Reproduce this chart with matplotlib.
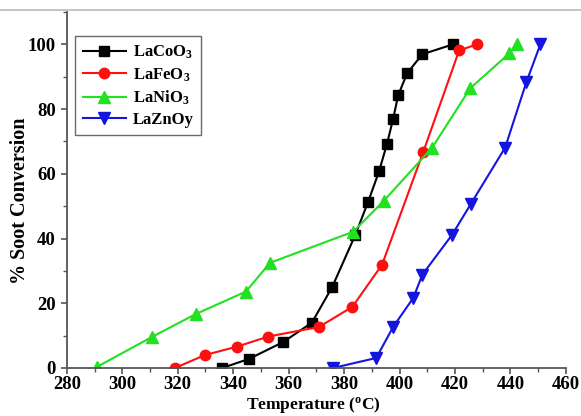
import numpy as np
import matplotlib.pyplot as plt
from matplotlib.lines import Line2D
from matplotlib.ticker import MultipleLocator

# data
co_temp = [336, 345.7, 358, 368.4, 375.7, 384, 388.7, 392.6, 395.5, 397.7, 399.5, 402.7, 408.2, 419.4]
co_conv = [0, 2.8, 8, 14, 25, 41, 51.4, 60.7, 69.3, 77, 84.2, 91, 96.9, 100]

fe_temp = [319, 329.8, 341.4, 352.6, 371, 383, 393.7, 408.5, 421.5, 428]
fe_conv = [0, 4.0, 6.6, 9.7, 12.7, 18.9, 31.9, 66.6, 98.1, 100]

ni_temp = [290.8, 310.7, 326.6, 344.6, 353.3, 383.3, 394.4, 411.8, 425.5, 439.6, 442.5]
ni_conv = [0.3, 9.6, 16.7, 23.6, 32.5, 42.1, 51.7, 68.1, 86.4, 97.2, 100]

zn_temp = [376, 391.6, 397.7, 405, 408.2, 419, 425.8, 438.1, 445.7, 450.8]
zn_conv = [0, 3.1, 12.7, 21.7, 28.8, 41.2, 50.8, 68.1, 88.2, 100]

plt.rcParams["font.family"] = ["Liberation Serif", "DejaVu Serif"]
plt.rcParams["font.weight"] = "bold"
plt.rcParams["mathtext.fontset"] = "custom"
plt.rcParams["mathtext.rm"] = "Liberation Serif:bold"
plt.rcParams["mathtext.it"] = "Liberation Serif:bold"
plt.rcParams["mathtext.bf"] = "Liberation Serif:bold"

fig = plt.figure(figsize=(5.81, 4.16), dpi=100)
ax = fig.add_axes([0.115, 0.1154, 0.859, 0.856])

ax.plot(co_temp, co_conv, color="black", marker="s", ms=6.5, lw=1.5, label="LaCoO$_3$")
ax.plot(fe_temp, fe_conv, color="#ff1010", marker="o", ms=7.5, lw=1.5, label="LaFeO$_3$")
ax.plot(ni_temp, ni_conv, color="#22e022", marker="^", ms=8, lw=1.5, label="LaNiO$_3$")
ax.plot(zn_temp, zn_conv, color="#1515e0", marker="v", ms=8, lw=1.5, label="LaZnOy")

ax.set_xlim(280, 460)
ax.set_ylim(0, 110)
ax.xaxis.set_major_locator(MultipleLocator(20))
ax.xaxis.set_minor_locator(MultipleLocator(10))
ax.yaxis.set_major_locator(MultipleLocator(20))
ax.yaxis.set_minor_locator(MultipleLocator(10))
ax.set_yticks([0, 20, 40, 60, 80, 100])

for s in ["top", "right"]:
    ax.spines[s].set_visible(False)
for s in ["left", "bottom"]:
    ax.spines[s].set_color("#555555")
    ax.spines[s].set_linewidth(1.3)

ax.tick_params(which="major", direction="out", length=4.5, width=1.2, color="#555555", labelsize=13.5)
ax.tick_params(which="minor", direction="out", length=3, width=1.0, color="#555555")
ax.tick_params(axis="x", pad=1.5)
for lbl in ax.get_xticklabels() + ax.get_yticklabels():
    lbl.set_fontweight("bold")

ax.set_ylabel("% Soot Conversion", fontsize=14.5, fontweight="bold")
ax.yaxis.set_label_coords(-0.074, 0.47)
ax.set_xlabel("Temperature ($^\\mathrm{o}$C)", fontsize=12.5, fontweight="bold")
ax.xaxis.set_label_coords(0.493, -0.077)

leg = ax.legend(loc="upper left", bbox_to_anchor=(0.0, 0.955), fontsize=12,
                frameon=True, fancybox=False, edgecolor="#444444",
                handlelength=2.6, borderpad=0.45, labelspacing=0.3, handletextpad=0.4)
leg.get_frame().set_linewidth(1.0)
for t in leg.get_texts():
    t.set_fontweight("bold")

# thin gray border line at top of the picture
fig.add_artist(Line2D([0, 1], [0.976, 0.976], transform=fig.transFigure, color="#bbbbbb", lw=1.2))

plt.savefig("out.png", dpi=100)
